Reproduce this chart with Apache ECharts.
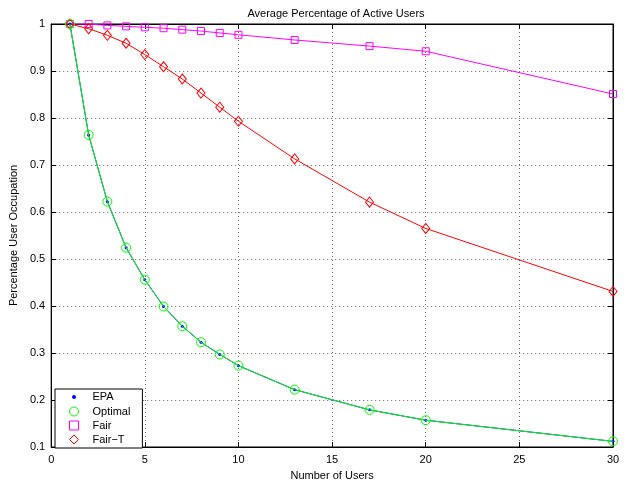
<!DOCTYPE html>
<html>
<head>
<meta charset="utf-8">
<script src="https://cdn.jsdelivr.net/npm/echarts@6/dist/echarts.min.js"></script>
<style>
  html, body { margin: 0; padding: 0; background: #fff; }
  #chart { width: 629px; height: 486px; }
</style>
</head>
<body>
<div id="chart"></div>
<script>
// data
const users = [1, 2, 3, 4, 5, 6, 7, 8, 9, 10, 13, 17, 20, 30];
const epa = [1.0, 0.764, 0.622, 0.524, 0.456, 0.399, 0.357, 0.323, 0.297, 0.273, 0.222, 0.179, 0.157, 0.112];
const optimal = [1.0, 0.764, 0.622, 0.524, 0.456, 0.399, 0.357, 0.323, 0.297, 0.273, 0.222, 0.179, 0.157, 0.112];
const fair = [1.0, 1.0, 0.997, 0.995, 0.993, 0.991, 0.988, 0.985, 0.981, 0.977, 0.966, 0.953, 0.942, 0.851];
const fairT = [1.0, 0.990, 0.976, 0.959, 0.935, 0.909, 0.883, 0.853, 0.823, 0.793, 0.713, 0.621, 0.565, 0.431];
const xTicks = [0, 5, 10, 15, 20, 25, 30];

const pairs = (ys) => users.map((x, i) => [x, ys[i]]);

const chart = echarts.init(document.getElementById("chart"), null, { renderer: "canvas" });

const font = "'Liberation Sans', Arial, sans-serif";
const clear = "rgba(0,0,0,0)";
const axisBase = {
  axisLine: { show: true, onZero: false, lineStyle: { color: "#000", width: 1 } },
  axisTick: { show: true, inside: true, length: 5, lineStyle: { color: "#000" } },
};
const gridDots = { show: true, lineStyle: { color: "#666", type: [1, 3], width: 1 } };

// hollow markers: transparent fill, thin stroke
const hollow = (c) => ({ color: clear, borderColor: c, borderWidth: 1 });

const option = {
  backgroundColor: "#fff",
  animation: false,
  textStyle: { fontFamily: font, color: "#000" },
  title: {
    text: "Average Percentage of Active Users",
    left: 331, top: 3, textAlign: "center",
    textStyle: { fontSize: 11, fontWeight: "normal", color: "#000", fontFamily: font },
  },
  grid: { left: 49, right: 16, top: 24, bottom: 33, show: true, borderColor: "#000", borderWidth: 1 },
  legend: {
    orient: "vertical",
    left: 55, top: 389,
    padding: [1, 12, 2, 12],
    itemGap: 1,
    itemWidth: 9, itemHeight: 9,
    backgroundColor: "#fff",
    borderColor: "#000", borderWidth: 1, borderRadius: 0,
    textStyle: { fontSize: 11, lineHeight: 13, color: "#000", fontFamily: font, padding: [0, 0, 0, 9] },
    data: [
      { name: "EPA", icon: "circle", itemStyle: { color: "#0000ff", borderColor: "#fff", borderWidth: 5 } },
      { name: "Optimal", icon: "circle", itemStyle: hollow("#00ff00") },
      { name: "Fair", icon: "rect", itemStyle: hollow("#ff00ff") },
      { name: "Fair\u2212T", icon: "diamond", itemStyle: hollow("#ff0000") },
    ],
  },
  xAxis: [
    Object.assign({}, axisBase, {
      type: "value", min: 0, max: 30, interval: 5, position: "bottom",
      name: "Number of Users", nameLocation: "middle", nameGap: 23,
      nameTextStyle: { fontSize: 11, color: "#000" },
      axisLabel: { fontSize: 11, color: "#000", margin: 7,
        formatter: (v) => (xTicks.includes(v) ? String(v) : "") },
      splitLine: gridDots,
    }),
    Object.assign({}, axisBase, {
      type: "value", min: 0, max: 30, interval: 5, position: "top",
      axisLabel: { show: false }, splitLine: { show: false },
    }),
  ],
  yAxis: [
    Object.assign({}, axisBase, {
      type: "value", min: 0.1, max: 1, interval: 0.1, position: "left",
      name: "Percentage User Occupation", nameLocation: "middle", nameGap: 27,
      nameTextStyle: { fontSize: 11, color: "#000" },
      axisLabel: { fontSize: 11, color: "#000", margin: 6,
        formatter: (v) => String(Math.round(v * 10) / 10) },
      splitLine: gridDots,
    }),
    Object.assign({}, axisBase, {
      type: "value", min: 0.1, max: 1, interval: 0.1, position: "right",
      axisLabel: { show: false }, splitLine: { show: false },
    }),
  ],
  series: [
    {
      name: "EPA", type: "line", data: pairs(epa),
      symbol: "circle", symbolSize: 3, z: 3,
      lineStyle: { color: "#0000ff", width: 1 },
      itemStyle: { color: "#0000ff", borderWidth: 0 },
    },
    {
      name: "Optimal", type: "line", data: pairs(optimal),
      symbol: "circle", symbolSize: 9, z: 4,
      lineStyle: { color: "#00ff00", width: 1 },
      itemStyle: hollow("#00ff00"),
    },
    {
      name: "Fair", type: "line", data: pairs(fair),
      symbol: "rect", symbolSize: 7, z: 3,
      lineStyle: { color: "#ff00ff", width: 1 },
      itemStyle: hollow("#ff00ff"),
    },
    {
      name: "Fair\u2212T", type: "line", data: pairs(fairT),
      symbol: "diamond", symbolSize: [8, 10], z: 3,
      lineStyle: { color: "#ff0000", width: 1 },
      itemStyle: hollow("#ff0000"),
    },
  ],
};

chart.setOption(option);
</script>
</body>
</html>
